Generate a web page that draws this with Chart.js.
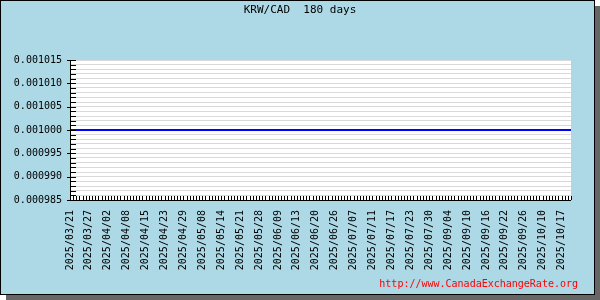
<!DOCTYPE html>
<html>
<head>
<meta charset="utf-8">
<title>KRW/CAD 180 days</title>
<script src="https://cdn.jsdelivr.net/npm/chart.js@4.4.1/dist/chart.umd.min.js"></script>
<style>
    html, body { margin: 0; padding: 0; background: #fff; }
    #wrap { width: 600px; height: 300px; }
</style>
</head>
<body>
<div id="wrap"><canvas id="chart" width="600" height="300"></canvas></div>
<script>
// Etiquetas del eje X (una cada 6 puntos)
const dateLabels = [
    '2025/03/21', '2025/03/27', '2025/04/02', '2025/04/08', '2025/04/15', '2025/04/23',
    '2025/04/29', '2025/05/08', '2025/05/14', '2025/05/21', '2025/05/28', '2025/06/09',
    '2025/06/13', '2025/06/20', '2025/06/26', '2025/07/07', '2025/07/11', '2025/07/17',
    '2025/07/23', '2025/07/30', '2025/09/04', '2025/09/10', '2025/09/16', '2025/09/22',
    '2025/09/26', '2025/10/10', '2025/10/17'
];
const labelEvery = 6;

// Tipo de cambio KRW/CAD (160 puntos)
const rates = [
    0.001000, 0.001000, 0.001000, 0.001000, 0.001000, 0.001000, 0.001000, 0.001000, 0.001000, 0.001000, 0.001000, 0.001000, 0.001000, 0.001000, 0.001000, 0.001000,
    0.001000, 0.001000, 0.001000, 0.001000, 0.001000, 0.001000, 0.001000, 0.001000, 0.001000, 0.001000, 0.001000, 0.001000, 0.001000, 0.001000, 0.001000, 0.001000,
    0.001000, 0.001000, 0.001000, 0.001000, 0.001000, 0.001000, 0.001000, 0.001000, 0.001000, 0.001000, 0.001000, 0.001000, 0.001000, 0.001000, 0.001000, 0.001000,
    0.001000, 0.001000, 0.001000, 0.001000, 0.001000, 0.001000, 0.001000, 0.001000, 0.001000, 0.001000, 0.001000, 0.001000, 0.001000, 0.001000, 0.001000, 0.001000,
    0.001000, 0.001000, 0.001000, 0.001000, 0.001000, 0.001000, 0.001000, 0.001000, 0.001000, 0.001000, 0.001000, 0.001000, 0.001000, 0.001000, 0.001000, 0.001000,
    0.001000, 0.001000, 0.001000, 0.001000, 0.001000, 0.001000, 0.001000, 0.001000, 0.001000, 0.001000, 0.001000, 0.001000, 0.001000, 0.001000, 0.001000, 0.001000,
    0.001000, 0.001000, 0.001000, 0.001000, 0.001000, 0.001000, 0.001000, 0.001000, 0.001000, 0.001000, 0.001000, 0.001000, 0.001000, 0.001000, 0.001000, 0.001000,
    0.001000, 0.001000, 0.001000, 0.001000, 0.001000, 0.001000, 0.001000, 0.001000, 0.001000, 0.001000, 0.001000, 0.001000, 0.001000, 0.001000, 0.001000, 0.001000,
    0.001000, 0.001000, 0.001000, 0.001000, 0.001000, 0.001000, 0.001000, 0.001000, 0.001000, 0.001000, 0.001000, 0.001000, 0.001000, 0.001000, 0.001000, 0.001000,
    0.001000, 0.001000, 0.001000, 0.001000, 0.001000, 0.001000, 0.001000, 0.001000, 0.001000, 0.001000, 0.001000, 0.001000, 0.001000, 0.001000, 0.001000, 0.001000
];

// Eje Y
const yMin = 0.000985;
const yMax = 0.001015;
const yStep = 0.000001;
const yLabelEvery = 5;

const titleText = 'KRW/CAD  180 days';
const footerText = 'http://www.CanadaExchangeRate.org';

const xLabels = rates.map((_, i) => (i % labelEvery === 0 && dateLabels[i / labelEvery]) ? dateLabels[i / labelEvery] : '');

const monoFont = "'DejaVu Sans Mono', monospace";

const frame = {
    id: 'frame',
    beforeDraw(chart) {
        const ctx = chart.ctx;
        const a = chart.chartArea;
        ctx.save();
        // sombra
        ctx.fillStyle = '#666666';
        ctx.fillRect(6, 6, 594, 294);
        // panel
        ctx.fillStyle = '#add8e6';
        ctx.fillRect(0, 0, 595, 295);
        ctx.strokeStyle = '#000';
        ctx.lineWidth = 1;
        ctx.strokeRect(0.5, 0.5, 594, 294);
        // area de trazado
        ctx.fillStyle = '#ffffff';
        ctx.fillRect(a.left, a.top, a.right - a.left, a.bottom - a.top);
        ctx.restore();
    },
    afterDraw(chart) {
        const ctx = chart.ctx;
        const a = chart.chartArea;
        const xs = chart.scales.x;
        const ys = chart.scales.y;
        ctx.save();
        ctx.strokeStyle = '#000';
        ctx.lineWidth = 1;
        ctx.beginPath();
        // ejes
        ctx.moveTo(a.left + 0.5, a.top);
        ctx.lineTo(a.left + 0.5, a.bottom + 1);
        ctx.moveTo(a.left, a.bottom + 0.5);
        ctx.lineTo(a.right, a.bottom + 0.5);
        // marcas del eje Y
        ys.ticks.forEach(t => {
            const y = Math.round(ys.getPixelForValue(t.value)) + 0.5;
            const major = Math.round(t.value / yStep) % yLabelEvery === 0;
            ctx.moveTo(a.left - (major ? 3 : 0), y);
            ctx.lineTo(a.left + 6, y);
        });
        // marcas del eje X
        rates.forEach((_, i) => {
            const x = Math.round(xs.getPixelForValue(i)) + 0.5;
            ctx.moveTo(x, a.bottom);
            ctx.lineTo(x, a.bottom - 4);
        });
        ctx.stroke();

        // textos
        ctx.fillStyle = '#000';
        ctx.font = '11px ' + monoFont;
        ctx.textAlign = 'center';
        ctx.textBaseline = 'middle';
        ctx.fillText(titleText, 300, 10);
        ctx.fillStyle = '#ff0000';
        ctx.font = '10px ' + monoFont;
        ctx.textAlign = 'right';
        ctx.fillText(footerText, 578, 284);
        ctx.restore();
    }
};

new Chart(document.getElementById('chart'), {
    type: 'line',
    data: {
        labels: xLabels,
        datasets: [{
            data: rates,
            borderColor: '#0000ff',
            borderWidth: 2,
            pointRadius: 0,
            tension: 0,
            fill: false
        }]
    },
    options: {
        responsive: false,
        animation: false,
        devicePixelRatio: 1,
        layout: {
            padding: { left: 0, top: 60, right: 29, bottom: 0 }
        },
        plugins: {
            legend: { display: false },
            tooltip: { enabled: false }
        },
        scales: {
            x: {
                type: 'category',
                offset: false,
                afterFit: s => { s.height = 100; },
                grid: { display: false, drawTicks: false },
                border: { display: false },
                ticks: {
                    autoSkip: false,
                    maxRotation: 90,
                    minRotation: 90,
                    padding: 10,
                    color: '#000',
                    font: { family: monoFont, size: 10 }
                }
            },
            y: {
                min: yMin,
                max: yMax,
                afterFit: s => { s.width = 70; },
                grid: { color: '#d9d9d9', drawTicks: false },
                border: { display: false },
                ticks: {
                    stepSize: yStep,
                    maxTicksLimit: 1000,
                    autoSkip: false,
                    padding: 8,
                    color: '#000',
                    font: { family: monoFont, size: 10 },
                    callback: v => Math.round(v / yStep) % yLabelEvery === 0 ? v.toFixed(6) : ''
                }
            }
        }
    },
    plugins: [frame]
});
</script>
</body>
</html>
